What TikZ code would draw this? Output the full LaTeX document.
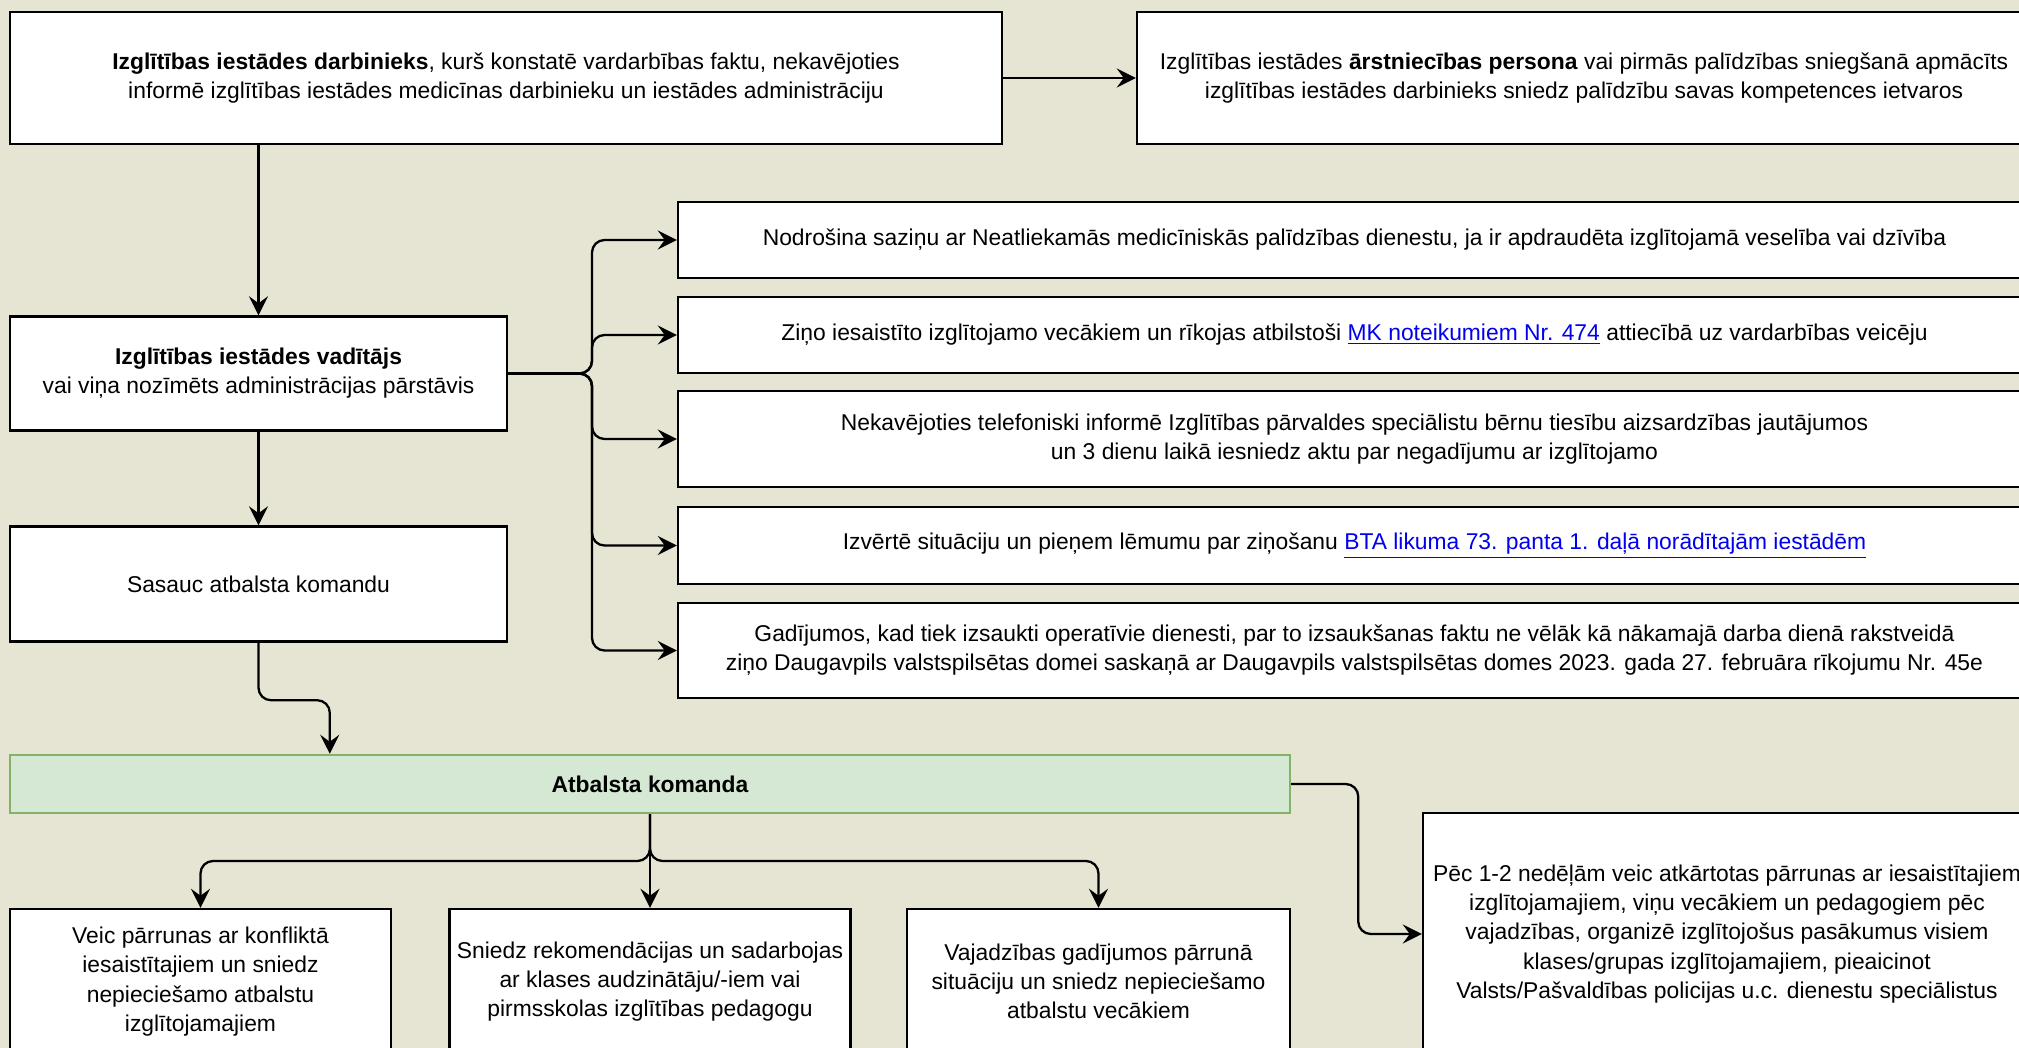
\documentclass[tikz,border=0pt]{standalone}
\usepackage{fontspec}
\setmainfont{Liberation Sans}
\usepackage{xcolor}
\usetikzlibrary{arrows.meta}
\definecolor{bgbeige}{RGB}{230,229,211}
\definecolor{teamfill}{HTML}{D5E8D4}
\definecolor{teamline}{HTML}{82B366}
\definecolor{linkblue}{HTML}{0000EE}
\newcommand{\weblink}[1]{\textcolor{linkblue}{\underline{#1}}}
\tikzset{
  box/.style={draw, fill=white, line width=1.4pt, align=center, inner sep=0pt,
    font=\fontsize{13}{16.6}\selectfont},
  teambox/.style={box, draw=teamline, fill=teamfill},
  link/.style={->, line width=1.3pt, rounded corners=0.25cm},
}

\begin{document}
\begin{tikzpicture}[>={Stealth[length=3.8mm,width=3.8mm,inset=1.4mm]}]
    \useasboundingbox (0,0) rectangle (40.38,-20.96);
    \fill[bgbeige] (0,0) rectangle (40.38,-20.96);
    \clip (0,0) rectangle (40.38,-20.96);

    \node[box, minimum width=19.84cm, minimum height=2.64cm] (worker) at (10.12,-1.56)
      {\textbf{Izglītības iestādes darbinieks}, kurš konstatē vardarbības faktu, nekavējoties\\
       informē izglītības iestādes medicīnas darbinieku un iestādes administrāciju};
    \node[box, minimum width=17.88cm, minimum height=2.64cm] (medic) at (31.68,-1.56)
      {Izglītības iestādes \textbf{ārstniecības persona} vai pirmās palīdzības sniegšanā apmācīts\\
       izglītības iestādes darbinieks sniedz palīdzību savas kompetences ietvaros};
    \node[box, minimum width=9.94cm, minimum height=2.28cm] (head) at (5.17,-7.47)
      {\textbf{Izglītības iestādes vadītājs}\\ vai viņa nozīmēts administrācijas pārstāvis};
    \node[box, minimum width=9.94cm, minimum height=2.30cm] (call) at (5.17,-11.68)
      {Sasauc atbalsta komandu};

    \node[box, minimum width=27.06cm, minimum height=1.52cm] (ambul) at (27.09,-4.80)
      {Nodrošina saziņu ar Neatliekamās medicīniskās palīdzības dienestu, ja ir apdraudēta izglītojamā veselība vai dzīvība};
    \node[box, minimum width=27.06cm, minimum height=1.52cm] (parents) at (27.09,-6.70)
      {Ziņo iesaistīto izglītojamo vecākiem un rīkojas atbilstoši \weblink{MK noteikumiem Nr. 474} attiecībā uz vardarbības veicēju};
    \node[box, minimum width=27.06cm, minimum height=1.92cm] (office) at (27.09,-8.78)
      {Nekavējoties telefoniski informē Izglītības pārvaldes speciālistu bērnu tiesību aizsardzības jautājumos\\
       un 3 dienu laikā iesniedz aktu par negadījumu ar izglītojamo};
    \node[box, minimum width=27.06cm, minimum height=1.54cm] (report) at (27.09,-10.91)
      {Izvērtē situāciju un pieņem lēmumu par ziņošanu \weblink{BTA likuma 73. panta 1. daļā norādītajām iestādēm}};
    \node[box, minimum width=27.06cm, minimum height=1.90cm] (council) at (27.09,-13.01)
      {Gadījumos, kad tiek izsaukti operatīvie dienesti, par to izsaukšanas faktu ne vēlāk kā nākamajā darba dienā rakstveidā\\
       ziņo Daugavpils valstspilsētas domei saskaņā ar Daugavpils valstspilsētas domes 2023. gada 27. februāra rīkojumu Nr. 45e};

    \node[teambox, minimum width=25.60cm, minimum height=1.16cm] (team) at (13.0,-15.68)
      {\textbf{Atbalsta komanda}};

    \node[box, minimum width=7.62cm, minimum height=2.90cm] (talks) at (4.01,-19.63)
      {Veic pārrunas ar konfliktā\\ iesaistītajiem un sniedz\\ nepieciešamo atbalstu\\ izglītojamajiem};
    \node[box, minimum width=8.02cm, minimum height=2.90cm] (tutor) at (13.0,-19.63)
      {Sniedz rekomendācijas un sadarbojas\\ ar klases audzinātāju/-iem vai\\ pirmsskolas izglītības pedagogu};
    \node[box, minimum width=7.66cm, minimum height=2.90cm] (family) at (21.97,-19.63)
      {Vajadzības gadījumos pārrunā\\ situāciju un sniedz nepieciešamo\\ atbalstu vecākiem};
    \node[box, minimum width=12.16cm, minimum height=4.84cm] (follow) at (34.54,-18.68)
      {Pēc 1-2 nedēļām veic atkārtotas pārrunas ar iesaistītajiem\\
       izglītojamajiem, viņu vecākiem un pedagogiem pēc\\
       vajadzības, organizē izglītojošus pasākumus visiem\\
       klases/grupas izglītojamajiem, pieaicinot\\
       Valsts/Pašvaldības policijas u.c. dienestu speciālistus};

    \coordinate (fork) at (11.84,-7.47);
    \coordinate (split) at (13.0,-17.22);

    \draw[link] (worker.east) -- (medic.west);
    \draw[link] (worker.south -| head.north) -- (head.north);
    \draw[link] (head.south) -- (call.north);
    \foreach \act in {ambul,parents,office,report,council}
      \draw[link] (head.east) -- (fork) |- (\act.west);
    \draw[link] (call.south) -- ++(0,-1.15) -| ([xshift=6.42cm]team.north west);
    \draw[link] (team.south) -- (split) -| (talks.north);
    \draw[link] (team.south) -- (tutor.north);
    \draw[link] (team.south) -- (split) -| (family.north);
    \draw[link] (team.east) -- ++(1.34,0) |- (follow.west);
  \end{tikzpicture}
\end{document}
